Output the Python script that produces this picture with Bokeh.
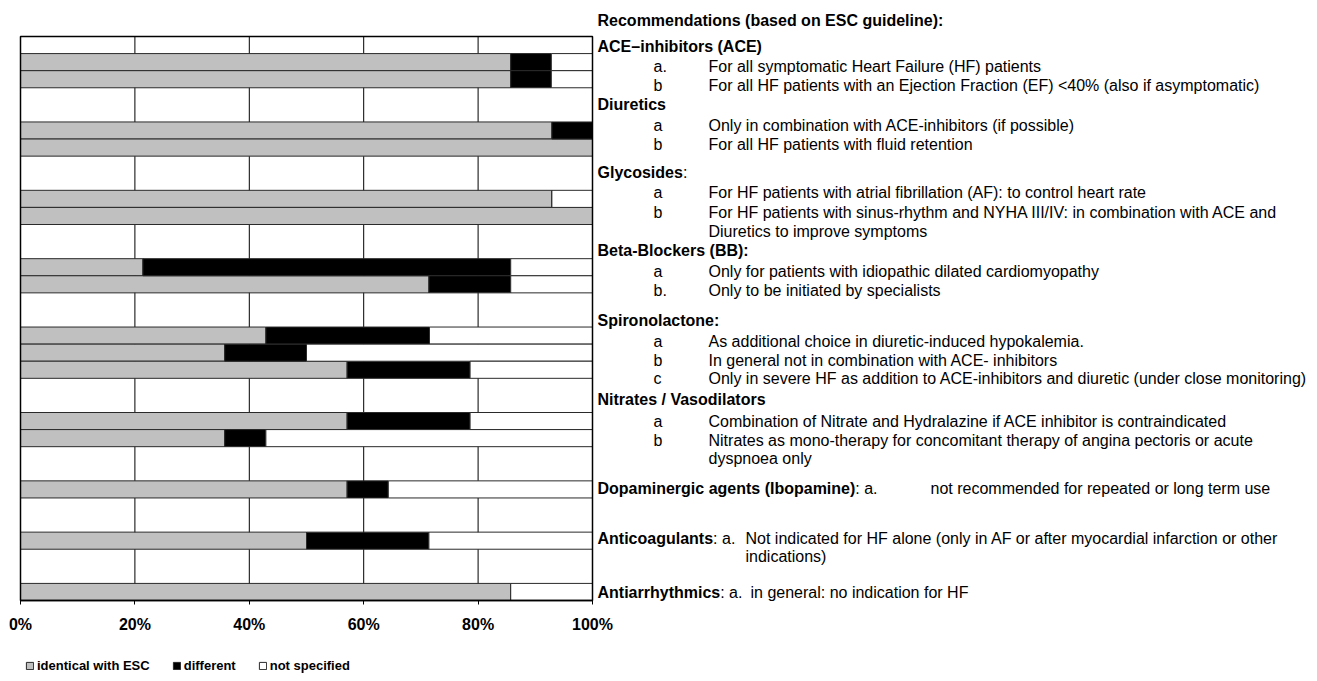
from bokeh.plotting import figure
from bokeh.models import (Range1d, ColumnDataSource, Legend, LegendItem,
                          FixedTicker, PrintfTickFormatter)
from bokeh.core.properties import value, field
from bokeh.embed import file_html
from bokeh.resources import INLINE

FONT = "Liberation Sans"

# ---------------- data ----------------
# rows from top to bottom; "gap.." rows are empty spacer rows
rows = ["gap0", "ACE a", "ACE b", "gap1", "gap2",
        "Diuretics a", "Diuretics b", "gap3", "gap4",
        "Glycosides a", "Glycosides b", "gap5", "gap6",
        "Beta-Blockers a", "Beta-Blockers b", "gap7", "gap8",
        "Spironolactone a", "Spironolactone b", "Spironolactone c", "gap9", "gap10",
        "Nitrates a", "Nitrates b", "gap11", "gap12",
        "Dopaminergic a", "gap13", "gap14",
        "Anticoagulants a", "gap15", "gap16",
        "Antiarrhythmics a"]

bar_rows = ["ACE a", "ACE b", "Diuretics a", "Diuretics b", "Glycosides a", "Glycosides b",
            "Beta-Blockers a", "Beta-Blockers b", "Spironolactone a", "Spironolactone b",
            "Spironolactone c", "Nitrates a", "Nitrates b", "Dopaminergic a",
            "Anticoagulants a", "Antiarrhythmics a"]

identical = [85.7, 85.7, 92.9, 100.0, 92.9, 100.0, 21.4, 71.4, 42.9, 35.7, 57.1, 57.1, 35.7, 57.1, 50.0, 85.7]
different = [7.1, 7.1, 7.1, 0.0, 0.0, 0.0, 64.3, 14.3, 28.6, 14.3, 21.5, 21.5, 7.2, 7.2, 21.4, 0.0]
not_specified = [7.2, 7.2, 0.0, 0.0, 7.1, 0.0, 14.3, 14.3, 28.5, 50.0, 21.4, 21.4, 57.1, 35.7, 28.6, 14.3]

series_names = ["identical with ESC", "different", "not specified"]
x_ticks = [0, 20, 40, 60, 80, 100]
grid_ticks = [20, 40, 60, 80]

# ---------------- layout geometry (page pixels) ----------------
W, H = 1317, 681
FL, FR, FT, FB = 20.0, 592.0, 36.0, 600.0     # plot-area edges
N = len(rows)
px_per_pct = (FR - FL) / 100.0
row_h = (FB - FT) / N

p = figure(frame_width=W, frame_height=H,
           x_range=Range1d(-FL / px_per_pct, (W - FL) / px_per_pct),
           y_range=Range1d(-(H - FB) / row_h, N + FT / row_h),
           output_backend="svg", toolbar_location=None, min_border=0)
p.extra_x_ranges = {"px": Range1d(0, W)}
p.extra_y_ranges = {"px": Range1d(H, 0)}
p.yaxis.visible = False
p.xgrid.visible = False
p.ygrid.visible = False
p.outline_line_color = None
p.background_fill_color = "white"
p.border_fill_color = "white"

# vertical grid lines (inside the plot area only)
p.segment(x0=grid_ticks, x1=grid_ticks, y0=[0] * len(grid_ticks), y1=[N] * len(grid_ticks),
          line_color="black", line_width=1)

# stacked bars
ypos = [N - 0.5 - rows.index(r) for r in bar_rows]
src = ColumnDataSource(dict(y=ypos, identical=identical,
                            different=different, not_specified=not_specified))
rs = p.hbar_stack(["identical", "different", "not_specified"], y="y", height=1.0,
                  fill_color=["#c0c0c0", "#000000", "#ffffff"],
                  line_color="#2a2a2a", line_width=1, source=src)

# plot-area border
p.quad(left=[0], right=[100], bottom=[0], top=[N], fill_color=None,
       line_color="black", line_width=1.5)

# x axis fixed at the bottom of the plot area
ax = p.xaxis[0]
ax.fixed_location = 0
ax.bounds = (0, 100)
ax.ticker = FixedTicker(ticks=x_ticks)
ax.formatter = PrintfTickFormatter(format="%d%%")
ax.axis_line_color = "black"
ax.axis_line_width = 1.5
ax.major_tick_line_color = "black"
ax.major_tick_out = 4
ax.major_tick_in = 0
ax.minor_tick_line_color = None
ax.major_label_text_font = FONT
ax.major_label_text_font_size = "16px"
ax.major_label_text_font_style = "bold"
ax.major_label_text_color = "black"
ax.major_label_standoff = 11

# legend
legend = Legend(items=[LegendItem(label=n, renderers=[r]) for n, r in zip(series_names, rs)],
                orientation="horizontal", location=(25, 8),
                glyph_width=9, glyph_height=9, label_standoff=3, spacing=22,
                padding=0, margin=0, border_line_alpha=0, background_fill_alpha=0,
                label_height=14, label_text_font=FONT, label_text_font_size="13px",
                label_text_font_style="bold", label_text_color="black")
p.add_layout(legend, "center")

# ---------------- recommendation text ----------------
HX, LX, DX = 597, 653, 708
lines = [
    (HX, 20, "Recommendations (based on ESC guideline):", "bold"),
    (HX, 46, "ACE\u2013inhibitors (ACE)", "bold"),
    (LX, 66, "a.", "normal"), (DX, 66, "For all symptomatic Heart Failure (HF) patients", "normal"),
    (LX, 85, "b", "normal"), (DX, 85, "For all HF patients with an Ejection Fraction (EF) <40% (also if asymptomatic)", "normal"),
    (HX, 104, "Diuretics", "bold"),
    (LX, 125, "a", "normal"), (DX, 125, "Only in combination with ACE-inhibitors (if possible)", "normal"),
    (LX, 144, "b", "normal"), (DX, 144, "For all HF patients with fluid retention", "normal"),
    (HX, 172, "Glycosides", "bold"), (HX + 85.4, 172, ":", "normal"),
    (LX, 192, "a", "normal"), (DX, 192, "For HF patients with atrial fibrillation (AF): to control heart rate", "normal"),
    (LX, 212, "b", "normal"), (DX, 212, "For HF patients with sinus-rhythm and NYHA III/IV: in combination with ACE and", "normal"),
    (DX, 231, "Diuretics to improve symptoms", "normal"),
    (HX, 250, "Beta-Blockers (BB):", "bold"),
    (LX, 271, "a", "normal"), (DX, 271, "Only for patients with idiopathic dilated cardiomyopathy", "normal"),
    (LX, 290, "b.", "normal"), (DX, 290, "Only to be initiated by specialists", "normal"),
    (HX, 320, "Spironolactone:", "bold"),
    (LX, 341, "a", "normal"), (DX, 341, "As additional choice in diuretic-induced hypokalemia.", "normal"),
    (LX, 360, "b", "normal"), (DX, 360, "In general not in combination with ACE- inhibitors", "normal"),
    (LX, 378, "c", "normal"), (DX, 378, "Only in severe HF as addition to ACE-inhibitors and diuretic (under close monitoring)", "normal"),
    (HX, 399, "Nitrates / Vasodilators", "bold"),
    (LX, 421, "a", "normal"), (DX, 421, "Combination of Nitrate and Hydralazine if ACE inhibitor is contraindicated", "normal"),
    (LX, 440, "b", "normal"), (DX, 440, "Nitrates as mono-therapy for concomitant therapy of angina pectoris or acute", "normal"),
    (DX, 458, "dyspnoea only", "normal"),
    (HX, 488, "Dopaminergic agents (Ibopamine)", "bold"), (HX + 257.8, 488, ": a.", "normal"),
    (930, 488, "not recommended for repeated or long term use", "normal"),
    (HX, 538, "Anticoagulants", "bold"), (HX + 115.6, 538, ": a.", "normal"),
    (745, 538, "Not indicated for HF alone (only in AF or after myocardial infarction or other", "normal"),
    (745, 556, "indications)", "normal"),
    (HX, 592, "Antiarrhythmics", "bold"), (HX + 122.7, 592, ": a.", "normal"),
    (750, 592, "in general: no indication for HF", "normal"),
]
tsrc = ColumnDataSource(dict(x=[l[0] for l in lines], y=[l[1] for l in lines],
                             text=[l[2] for l in lines], style=[l[3] for l in lines]))
p.text(x="x", y="y", text="text", source=tsrc, x_range_name="px", y_range_name="px",
       text_font=value(FONT), text_font_size=value("16px"), text_font_style=field("style"),
       text_baseline="middle", text_align="left", text_color="black")

open("out.html", "w").write(file_html(p, INLINE))
